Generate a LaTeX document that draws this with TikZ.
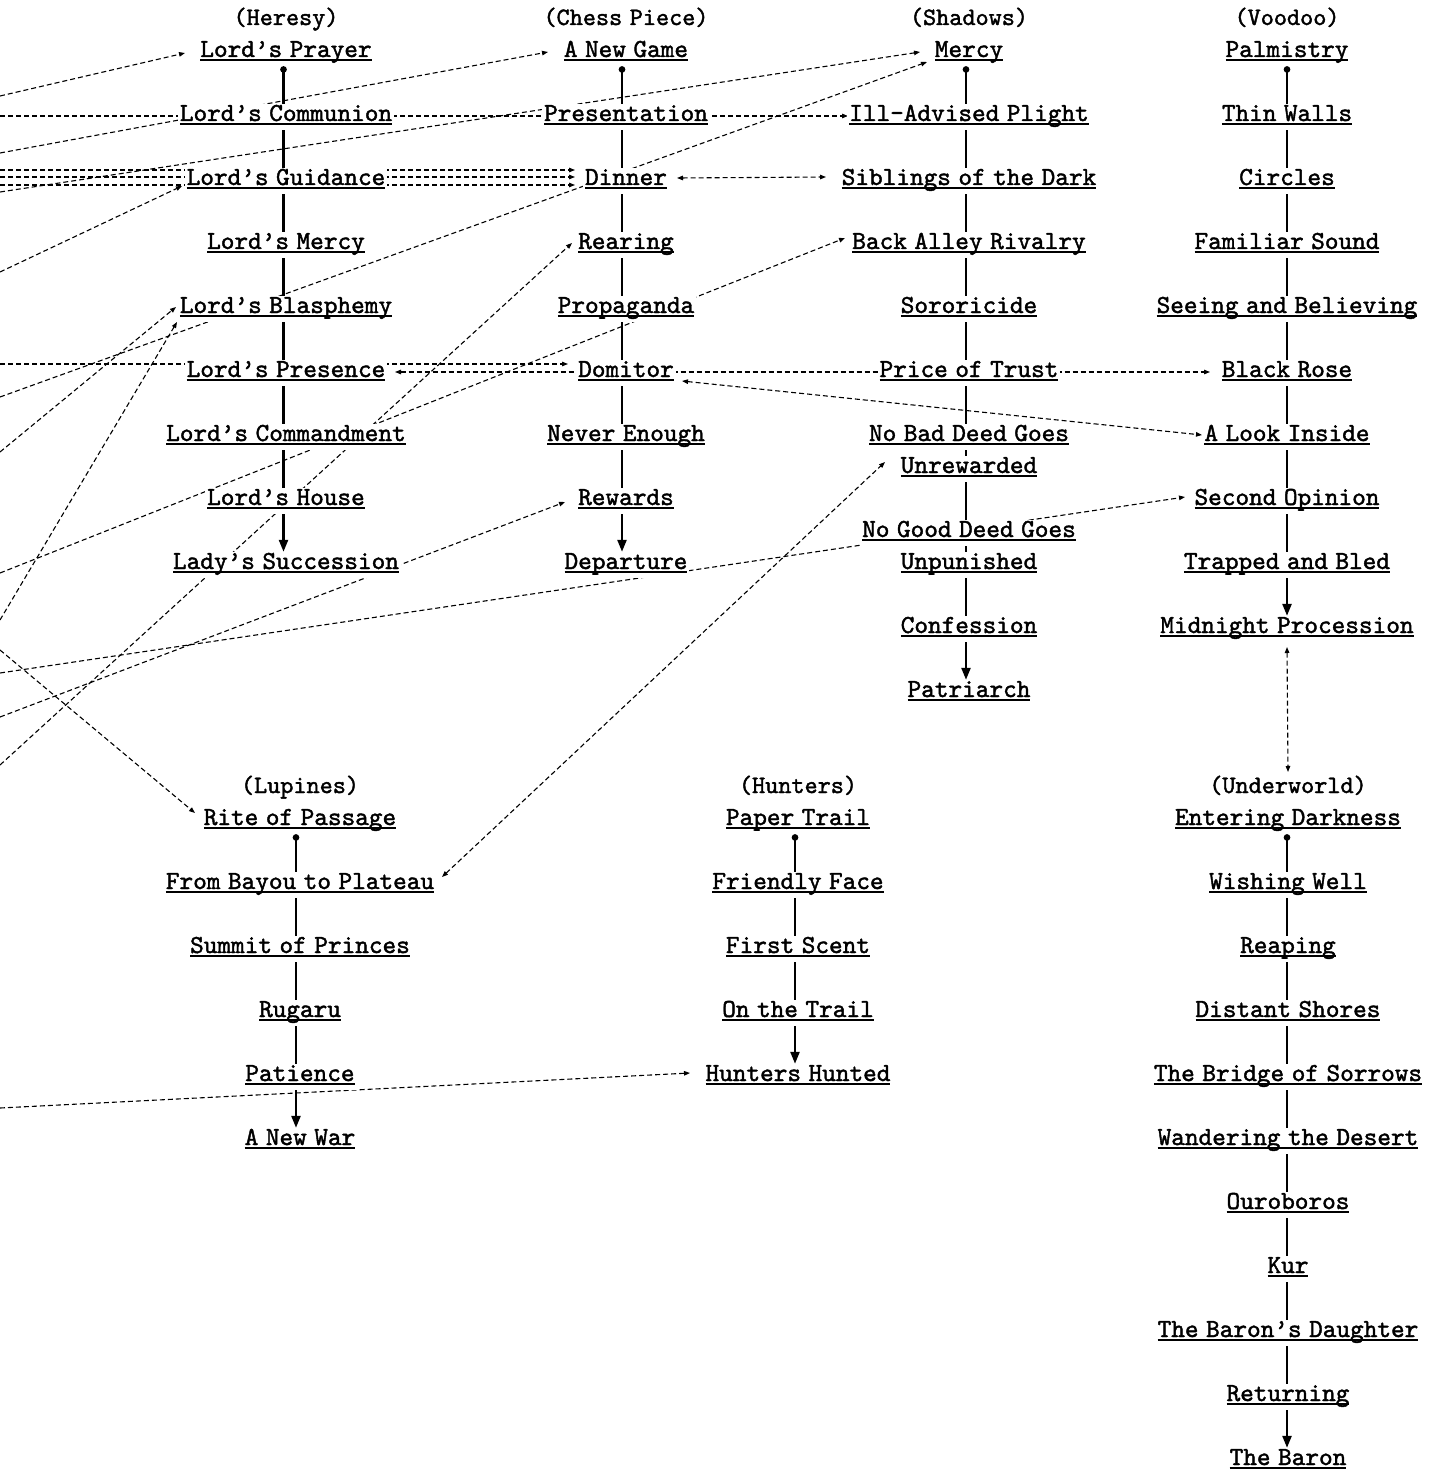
\documentclass[tikz,border=0pt]{standalone}
\usepackage{fontspec}
\newfontfamily\dfont{lmmono10-regular.otf}[FakeBold=1.6]
\usetikzlibrary{arrows.meta}
\pgfdeclarelayer{bgfill}
\pgfdeclarelayer{edges}
\pgfsetlayers{bgfill,edges,main}
\newsavebox\ulbox
\newcommand\ulx[1]{\sbox\ulbox{#1}\rlap{\rule[-4.3pt]{\wd\ulbox}{2pt}}\usebox\ulbox}
\newcommand\lblfont{\dfont\fontsize{26}{30}\selectfont\spaceskip=7.5pt\relax}
\newcommand\hdrfont{\dfont\fontsize{25}{30}\selectfont\spaceskip=7.5pt\relax}
\tikzset{
  lbl/.style={font=\lblfont, fill=white, inner xsep=2pt, inner ysep=2pt,
    text height=15pt, text depth=7pt, anchor=base},
  hdr/.style={lbl, font=\hdrfont},
  chain/.style={line width=2.4pt, {Circle[length=6.5pt]}-{Triangle[length=12pt,width=9pt]}},
  dep/.style={line width=1.1pt, dash pattern=on 5pt off 3pt, -{Triangle[length=6pt,width=4.5pt]}},
  depboth/.style={line width=1.1pt, dash pattern=on 5pt off 3pt, {Triangle[length=6pt,width=4.5pt]}-{Triangle[length=6pt,width=4.5pt]}},
}
\begin{document}
\begin{tikzpicture}[x=1pt,y=-1pt]
\useasboundingbox (0,0) rectangle (1434,1471);
\begin{pgfonlayer}{bgfill}
\fill[white] (0,0) rectangle (1434,1471);
\end{pgfonlayer}
% Heresy
\node[hdr] (hh) at (286,25) {(Heresy)};
\node[lbl] (h1) at (286,57) {\ulx{Lord’s Prayer}};
\node[lbl] (h2) at (286,121) {\ulx{Lord’s Communion}};
\node[lbl] (h3) at (286,185) {\ulx{Lord’s Guidance}};
\node[lbl] (h4) at (286,249) {\ulx{Lord’s Mercy}};
\node[lbl] (h5) at (286,313) {\ulx{Lord’s Blasphemy}};
\node[lbl] (h6) at (286,377) {\ulx{Lord’s Presence}};
\node[lbl] (h7) at (286,441) {\ulx{Lord’s Commandment}};
\node[lbl] (h8) at (286,505) {\ulx{Lord’s House}};
\node[lbl] (h9) at (286,569) {\ulx{Lady’s Succession}};
% Chess Piece
\node[hdr] (ch) at (626,25) {(Chess Piece)};
\node[lbl] (c1) at (626,57) {\ulx{A New Game}};
\node[lbl] (c2) at (626,121) {\ulx{Presentation}};
\node[lbl] (c3) at (626,185) {\ulx{Dinner}};
\node[lbl] (c4) at (626,249) {\ulx{Rearing}};
\node[lbl] (c5) at (626,313) {\ulx{Propaganda}};
\node[lbl] (c6) at (626,377) {\ulx{Domitor}};
\node[lbl] (c7) at (626,441) {\ulx{Never Enough}};
\node[lbl] (c8) at (626,505) {\ulx{Rewards}};
\node[lbl] (c9) at (626,569) {\ulx{Departure}};
% Shadows
\node[hdr] (sh) at (969,25) {(Shadows)};
\node[lbl] (s1) at (969,57) {\ulx{Mercy}};
\node[lbl] (s2) at (969,121) {\ulx{Ill-Advised Plight}};
\node[lbl] (s3) at (969,185) {\ulx{Siblings of the Dark}};
\node[lbl] (s4) at (969,249) {\ulx{Back Alley Rivalry}};
\node[lbl] (s5) at (969,313) {\ulx{Sororicide}};
\node[lbl] (s6) at (969,377) {\ulx{Price of Trust}};
\node[lbl] (s7a) at (969,441) {\ulx{No Bad Deed Goes}};
\node[lbl] (s7b) at (969,473) {\ulx{Unrewarded}};
\node[lbl] (s8a) at (969,537) {\ulx{No Good Deed Goes}};
\node[lbl] (s8b) at (969,569) {\ulx{Unpunished}};
\node[lbl] (s9) at (969,633) {\ulx{Confession}};
\node[lbl] (s10) at (969,697) {\ulx{Patriarch}};
% Voodoo
\node[hdr] (vh) at (1287,25) {(Voodoo)};
\node[lbl] (v1) at (1287,57) {\ulx{Palmistry}};
\node[lbl] (v2) at (1287,121) {\ulx{Thin Walls}};
\node[lbl] (v3) at (1287,185) {\ulx{Circles}};
\node[lbl] (v4) at (1287,249) {\ulx{Familiar Sound}};
\node[lbl] (v5) at (1287,313) {\ulx{Seeing and Believing}};
\node[lbl] (v6) at (1287,377) {\ulx{Black Rose}};
\node[lbl] (v7) at (1287,441) {\ulx{A Look Inside}};
\node[lbl] (v8) at (1287,505) {\ulx{Second Opinion}};
\node[lbl] (v9) at (1287,569) {\ulx{Trapped and Bled}};
\node[lbl] (v10) at (1287,633) {\ulx{Midnight Procession}};
% Lupines
\node[hdr] (lh) at (300,793) {(Lupines)};
\node[lbl] (l1) at (300,825) {\ulx{Rite of Passage}};
\node[lbl] (l2) at (300,889) {\ulx{From Bayou to Plateau}};
\node[lbl] (l3) at (300,953) {\ulx{Summit of Princes}};
\node[lbl] (l4) at (300,1017) {\ulx{Rugaru}};
\node[lbl] (l5) at (300,1081) {\ulx{Patience}};
\node[lbl] (l6) at (300,1145) {\ulx{A New War}};
% Hunters
\node[hdr] (th) at (798,793) {(Hunters)};
\node[lbl] (t1) at (798,825) {\ulx{Paper Trail}};
\node[lbl] (t2) at (798,889) {\ulx{Friendly Face}};
\node[lbl] (t3) at (798,953) {\ulx{First Scent}};
\node[lbl] (t4) at (798,1017) {\ulx{On the Trail}};
\node[lbl] (t5) at (798,1081) {\ulx{Hunters Hunted}};
% Underworld
\node[hdr] (uh) at (1288,793) {(Underworld)};
\node[lbl] (u1) at (1288,825) {\ulx{Entering Darkness}};
\node[lbl] (u2) at (1288,889) {\ulx{Wishing Well}};
\node[lbl] (u3) at (1288,953) {\ulx{Reaping}};
\node[lbl] (u4) at (1288,1017) {\ulx{Distant Shores}};
\node[lbl] (u5) at (1288,1081) {\ulx{The Bridge of Sorrows}};
\node[lbl] (u6) at (1288,1145) {\ulx{Wandering the Desert}};
\node[lbl] (u7) at (1288,1209) {\ulx{Ouroboros}};
\node[lbl] (u8) at (1288,1273) {\ulx{Kur}};
\node[lbl] (u9) at (1288,1337) {\ulx{The Baron’s Daughter}};
\node[lbl] (u10) at (1288,1401) {\ulx{Returning}};
\node[lbl] (u11) at (1288,1465) {\ulx{The Baron}};
% free ends at the left edge
\coordinate (o1) at (0,96);
\coordinate (o2) at (0,153);
\coordinate (o3) at (0,116);
\coordinate (o4) at (0,192);
\coordinate (o5) at (0,397);
\coordinate (o6) at (0,170);
\coordinate (o7) at (0,177);
\coordinate (o8) at (0,185);
\coordinate (o9) at (0,272);
\coordinate (o10) at (0,452);
\coordinate (o11) at (0,620);
\coordinate (o12) at (0,364);
\coordinate (o16) at (0,573);
\coordinate (o17) at (0,673);
\coordinate (o18) at (0,717);
\coordinate (o19) at (0,765);
\coordinate (o20) at (0,650);
\coordinate (o22) at (0,1108);
\begin{pgfonlayer}{edges}
% column chains
\draw[chain] ([xshift=-2.5pt]h1.south) -- ([xshift=-2.5pt]h9.north);
\draw[chain] ([xshift=-4pt]c1.south) -- ([xshift=-4pt]c9.north);
\draw[chain] ([xshift=-3pt]s1.south) -- ([xshift=-3pt]s10.north);
\draw[chain] (v1.south) -- (v10.north);
\draw[chain] ([xshift=-4pt]l1.south) -- ([xshift=-4pt]l6.north);
\draw[chain] ([xshift=-3pt]t1.south) -- ([xshift=-3pt]t5.north);
\draw[chain] ([xshift=-1pt]u1.south) -- ([xshift=-1pt]u11.north);
% dashed links
\draw[dep] (o1) -- ([shift={(-101,0)}]h1.center);
\draw[dep] (o2) -- ([shift={(-78,-1)}]c1.center);
\draw[dep] (o3) -- ([shift={(-121,-1)}]s2.center);
\draw[dep] (o4) -- ([shift={(-49,-1)}]s1.center);
\draw[dep] (o5) -- ([shift={(-42,9)}]s1.center);
\draw[dep] (o6) -- ([shift={(-51,-11)}]c3.center);
\draw[dep] (o7) -- ([shift={(-51,-4)}]c3.center);
\draw[dep] (o8) -- ([shift={(-51,4)}]c3.center);
\draw[dep] (o9) -- ([shift={(-104,5)}]h3.center);
\draw[dep] (o10) -- ([shift={(-110,-2)}]h5.center);
\draw[dep] (o11) -- ([shift={(-109,13)}]h5.center);
\draw[dep] (o12) -- ([shift={(-58,-9)}]c6.center);
\draw[depboth] ([shift={(109,-1)}]h6.center) -- ([shift={(-77,-1)}]v6.center);
\draw[depboth] ([shift={(56,8)}]c6.center) -- ([shift={(-85,-2)}]v7.center);
\draw[depboth] ([shift={(51,-3)}]c3.center) -- ([shift={(-143,-4)}]s3.center);
\draw[dep] (o16) -- ([shift={(-124,-7)}]s4.center);
\draw[dep] (o17) -- ([shift={(-102,-4)}]v8.center);
\draw[dep] (o18) -- ([shift={(-61,1)}]c8.center);
\draw[dep] (o19) -- ([shift={(-54,-2)}]c4.center);
\draw[dep] (o20) -- ([shift={(-105,-8)}]l1.center);
\draw[depboth] ([shift={(142,-8)}]l2.center) -- ([shift={(-84,-7)}]s7b.center);
\draw[dep] (o22) -- ([shift={(-108,-4)}]t5.center);
\draw[depboth] ([shift={(0,18)}]v10.center) -- ([shift={(0,-17)}]uh.center);
\end{pgfonlayer}
\end{tikzpicture}
\end{document}
